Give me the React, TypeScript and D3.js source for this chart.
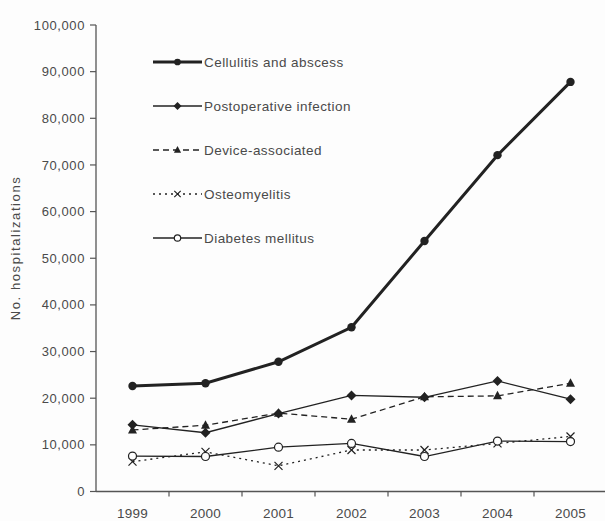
import React from "react";
import * as d3 from "d3";

const years = ["1999", "2000", "2001", "2002", "2003", "2004", "2005"];
const cellulitis = [22600, 23200, 27800, 35200, 53700, 72100, 87800];
const postoperative = [14300, 12600, 16700, 20600, 20200, 23700, 19800];
const deviceAssociated = [13200, 14200, 16800, 15500, 20300, 20500, 23200];
const osteomyelitis = [6400, 8500, 5500, 8900, 8900, 10300, 11800];
const diabetes = [7600, 7500, 9500, 10300, 7500, 10800, 10700];
const yTicks = [0, 10000, 20000, 30000, 40000, 50000, 60000, 70000, 80000, 90000, 100000];

type Series = {
  name: string;
  values: number[];
  width: number;
  dash: string;
  marker: "dot" | "diamond" | "triangle" | "x" | "circle";
};

const series: Series[] = [
  { name: "Cellulitis and abscess", values: cellulitis, width: 3, dash: "", marker: "dot" },
  { name: "Postoperative infection", values: postoperative, width: 1.3, dash: "", marker: "diamond" },
  { name: "Device-associated", values: deviceAssociated, width: 1.3, dash: "6,4", marker: "triangle" },
  { name: "Osteomyelitis", values: osteomyelitis, width: 1.3, dash: "2,4", marker: "x" },
  { name: "Diabetes mellitus", values: diabetes, width: 1.3, dash: "", marker: "circle" },
];

const INK = "#222";
const TEXT = "#4a4a4a";

function Marker({ kind, x, y, s = 1 }: { kind: Series["marker"]; x: number; y: number; s?: number }) {
  if (kind === "dot") return <circle cx={x} cy={y} r={4.2 * s} fill={INK} />;
  if (kind === "diamond") {
    const r = 5 * s;
    return <path d={`M${x},${y - r}L${x + r},${y}L${x},${y + r}L${x - r},${y}Z`} fill={INK} />;
  }
  if (kind === "triangle")
    return <path d={`M${x},${y - 5 * s}L${x + 4.5 * s},${y + 3.5 * s}L${x - 4.5 * s},${y + 3.5 * s}Z`} fill={INK} />;
  if (kind === "x") {
    const r = 4 * s;
    return (
      <path
        d={`M${x - r},${y - r}L${x + r},${y + r}M${x - r},${y + r}L${x + r},${y - r}`}
        stroke={INK}
        strokeWidth={1.2}
      />
    );
  }
  return <circle cx={x} cy={y} r={4 * s} fill="#fff" stroke={INK} strokeWidth={1.2} />;
}

export default function App() {
  const W = 605;
  const H = 521;
  const x0 = 96;
  const y0 = 491.5;
  const x = d3.scaleBand<string>().domain(years).range([x0, 607]).padding(0);
  const y = d3.scaleLinear().domain([0, 100000]).range([y0, 25]);
  const fmt = d3.format(",");
  const cx = (yr: string) => (x(yr) as number) + x.bandwidth() / 2;

  const line = (vals: number[]) =>
    d3
      .line<number>()
      .x((_, i) => cx(years[i]))
      .y((v) => y(v))(vals) as string;

  const legendX1 = 153;
  const legendX2 = 202;
  const legendY0 = 62;
  const legendStep = 44;

  return (
    <svg
      width={W}
      height={H}
      style={{ position: "absolute", left: 0, top: 0, background: "#fdfdfd" }}
      fontFamily="Liberation Sans, Arial, sans-serif"
    >
      {/* y axis */}
      <line x1={x0} x2={x0} y1={y(100000)} y2={y0} stroke="#555" strokeWidth={1.3} />
      {yTicks.map((t) => (
        <g key={t}>
          <line x1={x0 - 6} x2={x0} y1={y(t)} y2={y(t)} stroke="#555" strokeWidth={1.2} />
          <text
            x={85}
            y={y(t)}
            dy="0.35em"
            textAnchor="end"
            fontSize={13}
            fill={TEXT}
            letterSpacing={0.6}
          >
            {fmt(t)}
          </text>
        </g>
      ))}
      {/* x axis */}
      <line x1={x0} x2={607} y1={y0} y2={y0} stroke="#555" strokeWidth={1.3} />
      {years.slice(1).map((yr) => (
        <line
          key={yr}
          x1={x(yr) as number}
          x2={x(yr) as number}
          y1={y0}
          y2={y0 + 5}
          stroke="#555"
          strokeWidth={1.2}
        />
      ))}
      {years.map((yr) => (
        <text key={yr} x={cx(yr)} y={518} textAnchor="middle" fontSize={13.5} fill={TEXT} letterSpacing={0.3}>
          {yr}
        </text>
      ))}
      <text
        transform={`translate(20,${248}) rotate(-90)`}
        textAnchor="middle"
        fontSize={13}
        fill={TEXT}
        letterSpacing={1.6}
      >
        No. hospitalizations
      </text>

      {/* series */}
      {series.map((s) => (
        <g key={s.name}>
          <path
            d={line(s.values)}
            fill="none"
            stroke={INK}
            strokeWidth={s.width}
            strokeDasharray={s.dash || undefined}
          />
          {s.values.map((v, i) => (
            <Marker key={i} kind={s.marker} x={cx(years[i])} y={y(v)} />
          ))}
        </g>
      ))}

      {/* legend */}
      {series.map((s, i) => {
        const ly = legendY0 + i * legendStep;
        return (
          <g key={s.name}>
            <line
              x1={legendX1}
              x2={legendX2}
              y1={ly}
              y2={ly}
              stroke={INK}
              strokeWidth={s.width}
              strokeDasharray={s.dash || undefined}
            />
            <Marker kind={s.marker} x={(legendX1 + legendX2) / 2} y={ly} s={0.8} />
            <text x={legendX2 + 2} y={ly} dy="0.35em" fontSize={13.5} fill={TEXT} letterSpacing={0.45}>
              {s.name}
            </text>
          </g>
        );
      })}
    </svg>
  );
}
